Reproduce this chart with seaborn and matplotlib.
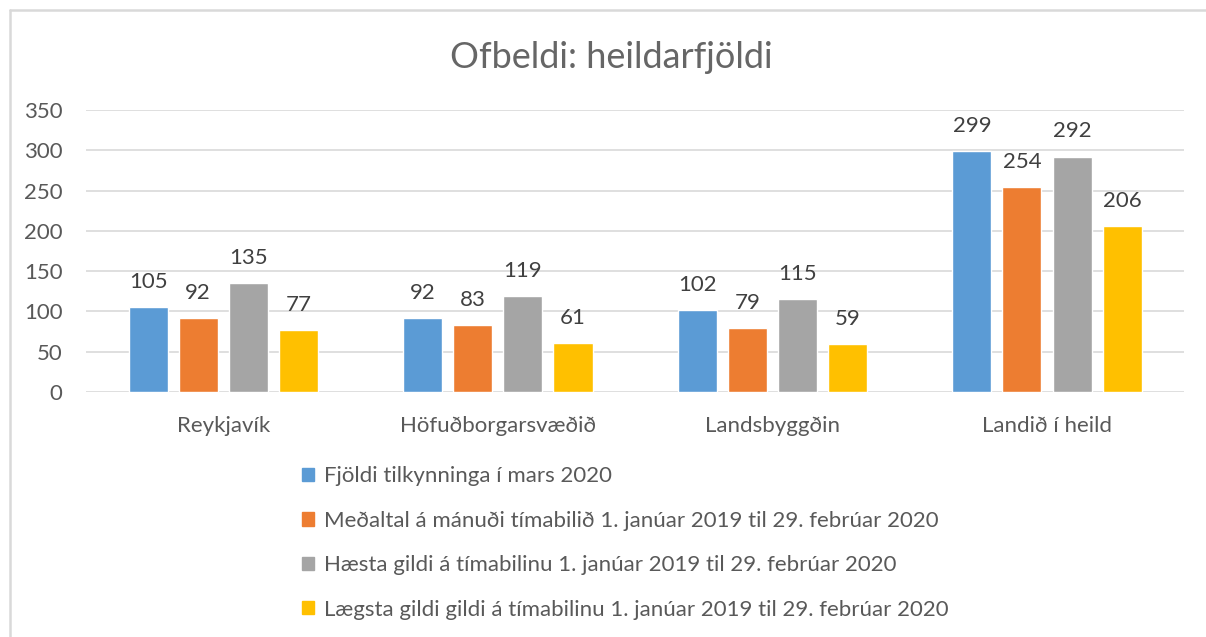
import matplotlib.pyplot as plt
import seaborn as sns
import pandas as pd
from matplotlib.lines import Line2D
from matplotlib.patches import Rectangle

# Data
areas = ["Reykjavík", "Höfuðborgarsvæðið", "Landsbyggðin", "Landið í heild"]
series = [
    "Fjöldi tilkynninga í mars 2020",
    "Meðaltal á mánuði tímabilið 1. janúar 2019 til 29. febrúar 2020",
    "Hæsta gildi á tímabilinu 1. janúar 2019 til 29. febrúar 2020",
    "Lægsta gildi gildi á tímabilinu 1. janúar 2019 til 29. febrúar 2020",
]
mars_2020 = [105, 92, 102, 299]
medaltal = [92, 83, 79, 254]
haesta = [135, 119, 115, 292]
laegsta = [77, 61, 59, 206]
colors = ["#5B9BD5", "#ED7D31", "#A5A5A5", "#FFC000"]

rows = []
for name, vals in zip(series, [mars_2020, medaltal, haesta, laegsta]):
    for a, v in zip(areas, vals):
        rows.append({"Svæði": a, "Flokkur": name, "Fjöldi": v})
df = pd.DataFrame(rows)

sns.set_style("white")
plt.rcParams['font.family'] = ['Lato', 'DejaVu Sans']
text_col = "#595959"

fig = plt.figure(figsize=(12.06, 6.37), dpi=100)
ax = fig.add_axes([0.0713, 0.3846, 0.9107, 0.4427])

sns.barplot(data=df, x="Svæði", y="Fjöldi", hue="Flokkur", palette=colors,
            saturation=1, width=0.73, gap=0.22, ax=ax, legend=False)

for cont in ax.containers:
    ax.bar_label(cont, padding=11, fontsize=16, color="#404040")

ax.set_ylim(0, 350)
ax.set_yticks(range(0, 351, 50))
ax.set_xlim(-0.5, 3.5)
ax.yaxis.grid(True, color="#D9D9D9", linewidth=1.2)
ax.set_axisbelow(True)
for s in ax.spines.values():
    s.set_visible(False)
ax.tick_params(axis="both", length=0, labelsize=16, colors=text_col)
ax.tick_params(axis="x", pad=17)
ax.tick_params(axis="y", pad=17)
ax.set_xlabel("")
ax.set_ylabel("")

fig.suptitle("Ofbeldi: heildarfjöldi", x=0.507, y=0.935, fontsize=26,
             color="#666666")

handles = [Rectangle((0, 0), 1, 1, color=c) for c in colors]
fig.legend(handles, series, loc="upper left", bbox_to_anchor=(0.243, 0.282),
           frameon=False, fontsize=16, labelcolor=text_col,
           handlelength=0.55, handleheight=0.55, handletextpad=0.45,
           labelspacing=1.1, borderaxespad=0)

# outer chart border: only left and top edges are visible in the crop
edge = "#D9D9D9"
fig.add_artist(Line2D([10 / 1206, 10 / 1206], [0, 1 - 10 / 637],
                      transform=fig.transFigure, color=edge, linewidth=1.8))
fig.add_artist(Line2D([10 / 1206, 1], [1 - 10 / 637, 1 - 10 / 637],
                      transform=fig.transFigure, color=edge, linewidth=1.8))

fig.savefig("out.png", dpi=100)
